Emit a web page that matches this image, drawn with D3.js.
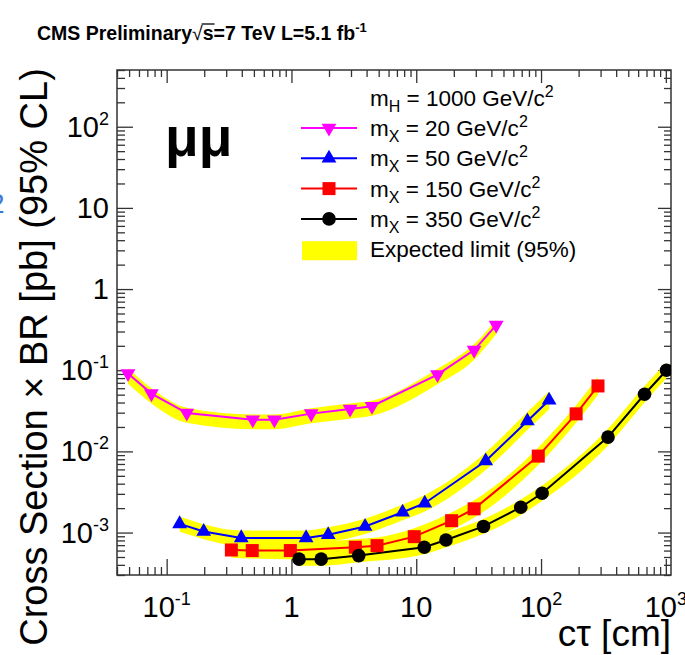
<!DOCTYPE html>
<html>
<head>
<meta charset="utf-8">
<script src="https://cdn.jsdelivr.net/npm/d3@7/dist/d3.min.js"></script>
<style>
body { margin: 0; background: #fff; }
svg { display: block; font-family: "Liberation Sans", Arial, Helvetica, sans-serif; }
</style>
</head>
<body>
<svg id="chart" width="685" height="655"></svg>
<script>
// Values (ct in cm, limit in pb)
const massH = 1000;
const massX = [20, 50, 150, 350];

const ct20  = [0.049, 0.0755, 0.145, 0.49, 0.73, 1.44, 2.95, 4.42, 14.8, 29.1, 43.7];
const lim20 = [0.091, 0.0515, 0.0297, 0.0246, 0.0246, 0.0292, 0.0333, 0.036, 0.0885, 0.177, 0.36];
const lo20  = [0.068, 0.039, 0.0225, 0.0188, 0.0188, 0.0222, 0.0253, 0.0275, 0.067, 0.135, 0.28];
const hi20  = [0.106, 0.060, 0.0345, 0.0285, 0.0285, 0.034, 0.039, 0.042, 0.104, 0.21, 0.42];

const ct50  = [0.127, 0.198, 0.396, 1.31, 1.97, 3.89, 7.77, 11.7, 36, 77.7, 116];
const lim50 = [0.00128, 0.00103, 0.00086, 0.00086, 0.00094, 0.00119, 0.00178, 0.0023, 0.0076, 0.0237, 0.0426];
const lo50  = [0.00102, 0.00083, 0.00069, 0.00069, 0.00076, 0.00096, 0.00142, 0.00182, 0.0059, 0.0183, 0.033];
const hi50  = [0.00158, 0.00127, 0.00106, 0.00106, 0.00116, 0.00148, 0.00222, 0.0029, 0.0097, 0.0305, 0.055];

const ct150  = [0.33, 0.485, 0.98, 3.25, 4.85, 9.64, 19.2, 29.1, 95, 191, 286];
const lim150 = [0.00061, 0.0006, 0.0006, 0.00066, 0.00069, 0.00089, 0.0014, 0.00196, 0.00875, 0.029, 0.064];
const lo150  = [0.00049, 0.00048, 0.00047, 0.00052, 0.00055, 0.0007, 0.00109, 0.00152, 0.0068, 0.0225, 0.05];
const hi150  = [0.00076, 0.00075, 0.00075, 0.00083, 0.00087, 0.00113, 0.00178, 0.0025, 0.0112, 0.037, 0.082];

const ct350  = [1.15, 1.73, 3.46, 11.6, 17.3, 34.6, 68.8, 102, 344, 675, 1013];
const lim350 = [0.00047, 0.00047, 0.00052, 0.00066, 0.00081, 0.00119, 0.00205, 0.00305, 0.015, 0.0506, 0.1];
const lo350  = [0.00039, 0.00039, 0.00043, 0.00054, 0.00066, 0.00097, 0.00165, 0.00245, 0.0118, 0.04, 0.08];
const hi350  = [0.00058, 0.00058, 0.00064, 0.00081, 0.001, 0.00147, 0.00255, 0.0038, 0.019, 0.064, 0.125];

const xTickValues = [0.1, 1, 10, 100, 1000];
const xTickLabels = ["10^-1", "1", "10", "10^2", "10^3"];
const yTickValues = [1e-3, 1e-2, 1e-1, 1, 10, 100];
const yTickLabels = ["10^-3", "10^-2", "10^-1", "1", "10", "10^2"];

// Styles
const colors = ["#ff00ff", "#0000ff", "#ff0000", "#000000"];
const shapes = ["down", "up", "square", "circle"];

const series = [
  {ct: ct20, lim: lim20, lo: lo20, hi: hi20},
  {ct: ct50, lim: lim50, lo: lo50, hi: hi50},
  {ct: ct150, lim: lim150, lo: lo150, hi: hi150},
  {ct: ct350, lim: lim350, lo: lo350, hi: hi350}
];

// Frame
const fLeft = 117, fRight = 671, fTop = 70, fBottom = 575;

const x = d3.scaleLog().domain([0.04, 1100]).range([fLeft, fRight]);
const y = d3.scaleLog().domain([3e-4, 500]).range([fBottom, fTop]);

const svg = d3.select("#chart");

svg.append("clipPath").attr("id", "plotclip")
   .append("rect")
   .attr("x", fLeft).attr("y", fTop)
   .attr("width", fRight - fLeft).attr("height", fBottom - fTop);

const isMajor = d => Math.abs(Math.log10(d) - Math.round(Math.log10(d))) < 1e-6;
const xMinor = x.ticks().filter(d => !isMajor(d));
const xMajor = x.ticks().filter(isMajor);
const yMinor = y.ticks().filter(d => !isMajor(d));
const yMajor = y.ticks().filter(isMajor);

// Axis ticks, pointing into the frame
function ticks(axis, values, size, transform) {
  svg.append("g")
     .attr("transform", transform)
     .call(axis.tickValues(values).tickSize(-size).tickFormat(""))
     .call(g => g.select(".domain").remove())
     .call(g => g.selectAll("line").attr("stroke", "#333").attr("stroke-width", 1.3));
}
ticks(d3.axisBottom(x), xMinor, 8, `translate(0,${fBottom})`);
ticks(d3.axisBottom(x), xMajor, 16, `translate(0,${fBottom})`);
ticks(d3.axisTop(x), xMinor, 7, `translate(0,${fTop})`);
ticks(d3.axisTop(x), xMajor, 13, `translate(0,${fTop})`);
ticks(d3.axisLeft(y), yMinor, 8, `translate(${fLeft},0)`);
ticks(d3.axisLeft(y), yMajor, 16, `translate(${fLeft},0)`);
ticks(d3.axisRight(y), yMinor, 7, `translate(${fRight},0)`);
ticks(d3.axisRight(y), yMajor, 13, `translate(${fRight},0)`);

svg.append("rect")
   .attr("x", fLeft).attr("y", fTop)
   .attr("width", fRight - fLeft).attr("height", fBottom - fTop)
   .attr("fill", "none").attr("stroke", "#333").attr("stroke-width", 1.5);

// Tick labels with superscripts
function powerLabel(sel, label) {
  const parts = label.split("^");
  sel.append("tspan").text(parts[0]);
  if (parts[1]) sel.append("tspan").attr("font-size", 18).attr("dy", -12).text(parts[1]);
}

xTickValues.forEach((v, i) => {
  const t = svg.append("text")
     .attr("x", x(v)).attr("y", 617)
     .attr("text-anchor", "middle")
     .attr("font-size", 29);
  powerLabel(t, xTickLabels[i]);
});

yTickValues.forEach((v, i) => {
  const t = svg.append("text")
     .attr("x", 109).attr("y", y(v) + 10)
     .attr("text-anchor", "end")
     .attr("font-size", 29);
  powerLabel(t, yTickLabels[i]);
});

// Axis titles
svg.append("text")
   .attr("transform", "translate(47,357) rotate(-90)")
   .attr("text-anchor", "middle")
   .attr("font-size", 38)
   .text("Cross Section \u00d7 BR [pb] (95% CL)");

svg.append("text")
   .attr("x", fRight).attr("y", 646)
   .attr("text-anchor", "end")
   .attr("font-size", 37)
   .text("c\u03c4 [cm]");

// Expected bands
const plot = svg.append("g").attr("clip-path", "url(#plotclip)");

series.forEach(s => {
  const band = d3.area()
     .x(i => x(s.ct[i]))
     .y0(i => y(s.lo[i]))
     .y1(i => y(s.hi[i]))
     .curve(d3.curveMonotoneX);
  plot.append("path")
     .attr("d", band(d3.range(s.ct.length)))
     .attr("fill", "#ffff00");
});

// Observed limits
function marker(sel, shape, color) {
  if (shape === "circle") {
    sel.append("circle").attr("r", 6.8).attr("fill", color);
  } else if (shape === "square") {
    sel.append("rect").attr("x", -6.5).attr("y", -6.5).attr("width", 13).attr("height", 13).attr("fill", color);
  } else {
    sel.append("path")
       .attr("d", d3.symbol().type(d3.symbolTriangle).size(95)())
       .attr("transform", shape === "down" ? "rotate(180)" : null)
       .attr("fill", color);
  }
}

series.forEach((s, k) => {
  const line = d3.line()
     .x(i => x(s.ct[i]))
     .y(i => y(s.lim[i]));
  plot.append("path")
     .attr("d", line(d3.range(s.ct.length)))
     .attr("fill", "none")
     .attr("stroke", colors[k])
     .attr("stroke-width", 2);
});

series.forEach((s, k) => {
  s.ct.forEach((c, i) => {
    const g = plot.append("g").attr("transform", `translate(${x(c)},${y(s.lim[i])})`);
    marker(g, shapes[k], colors[k]);
  });
});

// Channel label
svg.append("text")
   .attr("x", 165).attr("y", 156)
   .attr("font-size", 55).attr("font-weight", "bold")
   .text("\u03bc\u03bc");

// Legend
const legendX = 370, rowStep = 30.3, firstBase = 105.7;

function massText(sub, value, row) {
  const t = svg.append("text")
     .attr("x", legendX).attr("y", firstBase + row * rowStep)
     .attr("font-size", 22.5);
  t.append("tspan").text("m");
  t.append("tspan").attr("font-size", 16).attr("dy", 6).text(sub);
  t.append("tspan").attr("dy", -6).text(` = ${value} GeV/c`);
  t.append("tspan").attr("font-size", 16).attr("dy", -9).text("2");
}

massText("H", massH, 0);
massX.forEach((m, k) => {
  const row = k + 1;
  const cy = firstBase + row * rowStep - 8;
  svg.append("line")
     .attr("x1", 301).attr("x2", 357).attr("y1", cy).attr("y2", cy)
     .attr("stroke", colors[k]).attr("stroke-width", 2);
  marker(svg.append("g").attr("transform", `translate(329,${cy})`), shapes[k], colors[k]);
  massText("X", m, row);
});

svg.append("rect")
   .attr("x", 302).attr("y", firstBase + 5 * rowStep - 16)
   .attr("width", 55).attr("height", 19)
   .attr("fill", "#ffff00");
svg.append("text")
   .attr("x", legendX).attr("y", firstBase + 5 * rowStep)
   .attr("font-size", 22.5)
   .text("Expected limit (95%)");

// Title
const title = svg.append("text")
   .attr("x", 37).attr("y", 40)
   .attr("font-size", 19.5).attr("font-weight", "bold");
title.append("tspan").text("CMS Preliminary");
title.append("tspan").attr("font-weight", "normal").text("\u221a");
title.append("tspan").text("s=7 TeV L=5.1 fb");
title.append("tspan").attr("font-size", 13).attr("dy", -8).text("-1");

const sIndex = "CMS Preliminary\u221a".length;
const sStart = title.node().getStartPositionOfChar(sIndex);
const sEnd = title.node().getEndPositionOfChar(sIndex);
svg.append("line")
   .attr("x1", sStart.x - 1).attr("x2", sEnd.x + 1)
   .attr("y1", 24).attr("y2", 24)
   .attr("stroke", "#000").attr("stroke-width", 1.3);

// Cropped label piece at the left edge
svg.append("text")
   .attr("x", -11).attr("y", 213)
   .attr("font-size", 28).attr("fill", "#3c78d8")
   .text("2");
</script>
</body>
</html>
